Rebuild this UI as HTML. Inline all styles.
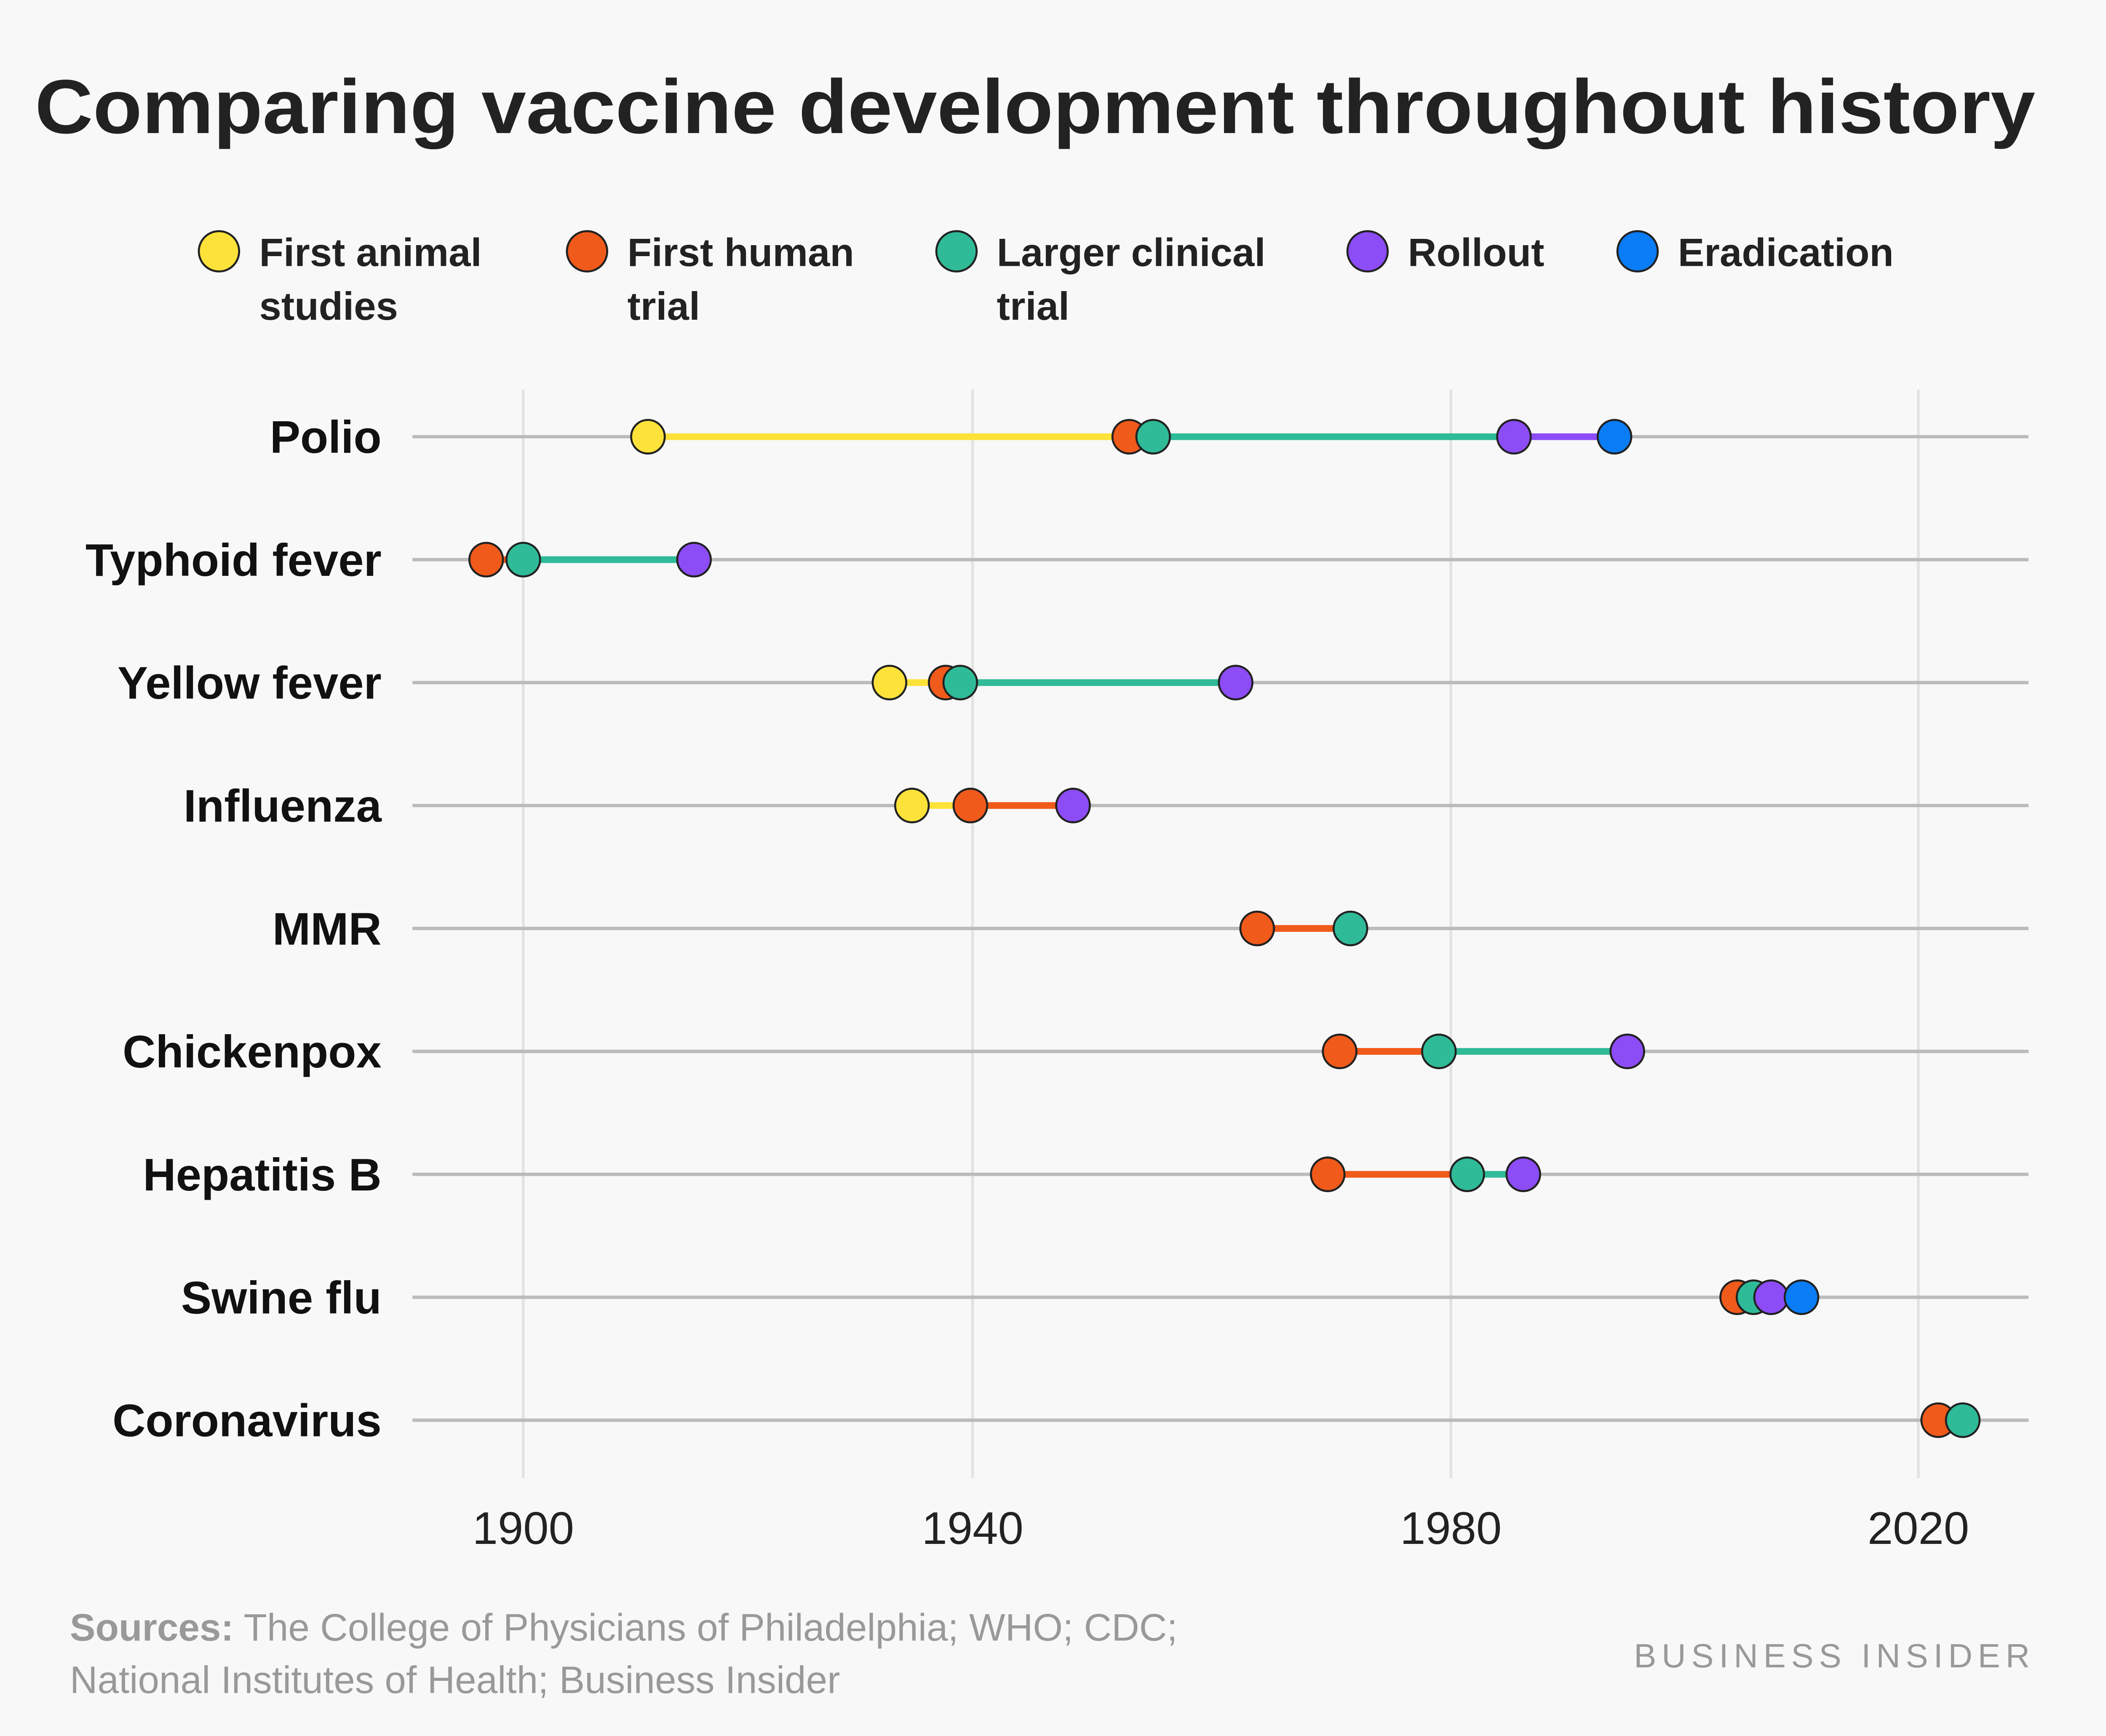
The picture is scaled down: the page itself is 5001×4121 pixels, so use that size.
<!DOCTYPE html>
<html><head><meta charset="utf-8"><style>
html,body{margin:0;padding:0;background:#f8f8f8}
svg{display:block;width:5001px;height:4121px}
text{font-family:"Liberation Sans",sans-serif}
</style></head><body>
<svg id="chart" viewBox="0 0 1568 1292" xmlns="http://www.w3.org/2000/svg">
<rect width="1568" height="1292" fill="#f8f8f8"/>
<text x="26" y="99" textLength="1489" lengthAdjust="spacingAndGlyphs" font-size="57" font-weight="bold" fill="#222">Comparing vaccine development throughout history</text>
<g id="legend"></g>
<g id="grid"></g>
<g id="rows"></g>
<text x="52" y="1221" font-size="28.5" fill="#999"><tspan font-weight="bold">Sources:</tspan> The College of Physicians of Philadelphia; WHO; CDC;</text>
<text x="52" y="1260" font-size="28.5" fill="#999">National Institutes of Health; Business Insider</text>
<text x="1515" y="1241" text-anchor="end" font-size="25" fill="#999" letter-spacing="4" font-family="Liberation Serif">BUSINESS INSIDER</text>
</svg>
<script>
const categories=["Polio","Typhoid fever","Yellow fever","Influenza","MMR","Chickenpox","Hepatitis B","Swine flu","Coronavirus"];
const stageNames=["First animal studies","First human trial","Larger clinical trial","Rollout","Eradication"];
const animalYears=[1911.1,null,1932.6,1934.6,null,null,null,null,null];
const humanYears=[1953.1,1896.7,1937.6,1939.8,1963.8,1970.7,1969.7,2004.5,2021.7];
const clinicalYears=[1955.1,1900,1938.9,null,1971.6,1979.0,1981.4,2005.9,2023.8];
const rolloutYears=[1985.4,1915.2,1962.0,1948.4,null,1995.1,1986.2,2007.4,null];
const eradicationYears=[1994.0,null,null,null,null,null,null,2010,null];
const tickYears=[1900,1940,1980,2020];
const tickLabels=["1900","1940","1980","2020"];

const colors=["#fde23a","#f05a1a","#2fbb98","#8c4cf6","#0a7cf5"];
const series=[animalYears,humanYears,clinicalYears,rolloutYears,eradicationYears];
const tickPx=[389.5,724,1080,1428];
function xScale(y){
  let i=0;
  if(y>=tickYears[2]) i=2; else if(y>=tickYears[1]) i=1; else i=0;
  const a=tickYears[i],b=tickYears[i+1];
  return tickPx[i]+(y-a)*(tickPx[i+1]-tickPx[i])/(b-a);
}
function yScale(i){return 325+i*91.5;}
const NS="http://www.w3.org/2000/svg";
function mk(t,attrs,parent){const e=document.createElementNS(NS,t);for(const k in attrs)e.setAttribute(k,attrs[k]);parent.appendChild(e);return e;}

const grid=document.getElementById('grid');
tickYears.forEach((t,i)=>{
  const l=mk('line',{x1:xScale(t),x2:xScale(t),y1:290,y2:1100,stroke:'#e2e2e2','stroke-width':2},grid);
  
  
  const tx=mk('text',{x:xScale(t),y:1149,'text-anchor':'middle','font-size':34,fill:'#222'},grid);
  tx.textContent=tickLabels[i];
  
  
});

const legend=document.getElementById('legend');
const legX=[163,437,712,1018,1219];
const legLines=[["First animal","studies"],["First human","trial"],["Larger clinical","trial"],["Rollout"],["Eradication"]];
stageNames.forEach((s,i)=>{
  const g=mk('g',{},legend);
  
  
  mk('circle',{cx:legX[i],cy:187,r:15,fill:colors[i],stroke:'#222','stroke-width':1.5},g);
  legLines[i].forEach((ln,j)=>{
    const t=mk('text',{x:legX[i]+30,y:198+j*40,'font-size':29.5,fill:'#222','font-weight':'bold'},g);
    t.textContent=ln;
  });
});

const rows=document.getElementById('rows');
categories.forEach((c,i)=>{
  const y=yScale(i);
  const g=mk('g',{},rows);
  
  
  mk('line',{x1:307,x2:1510,y1:y,y2:y,stroke:'#bbb','stroke-width':2.5},g);
  const lab=mk('text',{x:284,y:y+12,'text-anchor':'end','font-size':34,'font-weight':'bold',fill:'#111'},g);
  lab.textContent=c;
  
  
  const pts=[];
  series.forEach((s,k)=>{if(s[i]!=null)pts.push({x:xScale(s[i]),k});});
  for(let p=0;p<pts.length-1;p++){
    const seg=mk('line',{x1:pts[p].x,x2:pts[p+1].x,y1:y,y2:y,stroke:colors[pts[p].k],'stroke-width':5},g);
    
    
  }
  pts.forEach(p=>{
    const d=mk('circle',{cx:p.x,cy:y,r:12.5,fill:colors[p.k],stroke:'#222','stroke-width':1.5},g);
    
    
  });
});
</script>
</body></html>
